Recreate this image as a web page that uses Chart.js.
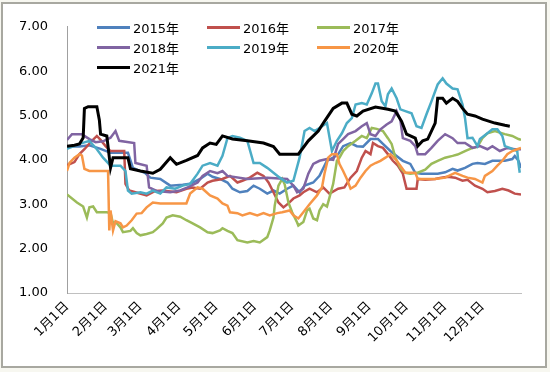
<!DOCTYPE html>
<html>
<head>
<meta charset="utf-8">
<script src="https://cdn.jsdelivr.net/npm/chart.js@4.4.0/dist/chart.umd.min.js"></script>
<style>
  html, body { margin: 0; padding: 0; background: #f7f7f0; }
  .wrap { position: relative; width: 550px; height: 372px; overflow: hidden; }
  .frame { position: absolute; left: 1px; top: 2px; width: 542px; height: 362px; border: 2px solid #a8a8a0; background: #fff; }
  .plot { position: absolute; left: 0; top: 0; width: 550px; height: 372px; }
  .legend { position: absolute; left: 97px; top: 17px; display: grid; grid-template-columns: 110px 110px 110px; grid-auto-rows: 20px; font: 13px "DejaVu Sans", "Noto Sans CJK SC", sans-serif; color: #000; }
  .legend div { display: flex; align-items: center; }
  .legend span.sw { display: inline-block; width: 33px; height: 3px; margin-right: 3px; }
</style>
</head>
<body>
<div class="wrap">
  <div class="frame"></div>
  <div class="plot"><canvas id="myChart" width="550" height="372" style="width:550px;height:372px;display:block"></canvas></div>
  <div class="legend" id="legend"></div>
</div>
<script>
// x axis: day of year, ticks at the first day of each month
const monthDays = [0, 31, 59, 90, 120, 151, 181, 212, 243, 273, 304, 334];
const monthLabels = ['1月1日', '2月1日', '3月1日', '4月1日', '5月1日', '6月1日',
  '7月1日', '8月1日', '9月1日', '10月1日', '11月1日', '12月1日'];
const yTicks = [1, 2, 3, 4, 5, 6, 7];

const names = ['2015年', '2016年', '2017年', '2018年', '2019年', '2020年', '2021年'];
const colors = ['#4f81bd', '#c0504d', '#9bbb59', '#8064a2', '#4bacc6', '#f79646', '#000000'];

const d2015 = [0, 10, 18, 27, 35, 49, 53, 63, 67, 75, 83, 93, 99, 107, 113, 117, 123, 129, 133, 139, 145, 150, 155, 161, 166, 171, 177, 182, 187, 191, 198, 203, 209, 214, 218, 222, 228, 233, 238, 244, 250, 254, 260, 265, 270, 276, 280, 285, 298, 304, 310, 314, 320, 326, 330, 336, 342, 352, 358, 360, 363, 365];
const v2015 = [4.30, 4.30, 4.33, 4.25, 4.16, 4.16, 3.82, 3.70, 3.60, 3.57, 3.42, 3.44, 3.46, 3.57, 3.69, 3.62, 3.57, 3.49, 3.35, 3.27, 3.30, 3.42, 3.35, 3.24, 3.31, 3.24, 3.35, 3.42, 3.27, 3.42, 3.49, 3.64, 3.98, 4.05, 4.13, 4.31, 4.38, 4.31, 4.30, 4.47, 4.47, 4.36, 4.20, 4.09, 3.98, 3.91, 3.71, 3.69, 3.69, 3.72, 3.80, 3.76, 3.82, 3.91, 3.93, 3.91, 3.98, 3.98, 4.02, 4.09, 3.98, 3.82];

const d2016 = [0, 6, 10, 14, 20, 24, 27, 31, 35, 46, 47, 50, 55, 64, 71, 77, 88, 96, 101, 107, 113, 117, 125, 131, 137, 141, 147, 153, 158, 162, 166, 170, 174, 178, 182, 187, 190, 195, 201, 206, 211, 218, 223, 228, 233, 237, 240, 244, 246, 250, 254, 258, 262, 266, 270, 273, 281, 282, 288, 296, 301, 306, 312, 318, 322, 328, 334, 338, 344, 350, 355, 360, 365];
const v2016 = [3.88, 3.95, 4.13, 4.24, 4.43, 4.54, 4.45, 4.31, 4.20, 4.20, 3.46, 3.31, 3.27, 3.20, 3.30, 3.31, 3.27, 3.35, 3.38, 3.35, 3.49, 3.53, 3.57, 3.64, 3.49, 3.53, 3.60, 3.71, 3.64, 3.49, 3.27, 3.04, 2.93, 3.02, 3.13, 3.20, 3.27, 3.35, 3.27, 3.38, 3.24, 3.35, 3.38, 3.60, 3.75, 4.05, 4.20, 4.13, 4.38, 4.31, 4.27, 4.13, 3.98, 3.87, 3.69, 3.35, 3.35, 3.57, 3.55, 3.57, 3.60, 3.62, 3.60, 3.53, 3.55, 3.42, 3.35, 3.27, 3.30, 3.35, 3.31, 3.24, 3.22];

const d2017 = [0, 8, 13, 16, 18, 21, 24, 32, 35, 37, 39, 43, 45, 51, 53, 56, 59, 64, 69, 72, 77, 80, 85, 91, 96, 101, 107, 113, 117, 123, 125, 129, 133, 137, 145, 150, 155, 161, 163, 166, 167, 170, 173, 175, 178, 181, 185, 186, 190, 193, 195, 198, 201, 203, 206, 209, 211, 214, 217, 219, 222, 226, 232, 237, 241, 245, 249, 254, 258, 261, 264, 268, 272, 276, 282, 288, 293, 298, 304, 310, 314, 320, 326, 330, 334, 338, 344, 352, 358, 363, 365];
const v2017 = [3.22, 3.04, 2.95, 2.70, 2.93, 2.95, 2.82, 2.82, 2.80, 2.57, 2.60, 2.48, 2.37, 2.40, 2.46, 2.35, 2.30, 2.33, 2.37, 2.44, 2.57, 2.70, 2.75, 2.72, 2.64, 2.57, 2.48, 2.37, 2.35, 2.41, 2.46, 2.40, 2.35, 2.19, 2.14, 2.17, 2.14, 2.26, 2.41, 2.70, 2.97, 3.42, 3.57, 3.45, 3.04, 2.82, 2.59, 2.52, 2.60, 2.86, 2.90, 2.68, 2.64, 2.86, 3.00, 2.95, 3.15, 3.46, 3.98, 4.05, 4.20, 4.31, 4.43, 4.54, 4.49, 4.72, 4.70, 4.65, 4.49, 4.36, 4.05, 3.82, 3.71, 3.69, 3.71, 3.78, 3.91, 3.98, 4.05, 4.09, 4.12, 4.20, 4.27, 4.30, 4.49, 4.60, 4.65, 4.58, 4.54, 4.47, 4.45];

const d2018 = [0, 4, 12, 18, 23, 29, 35, 39, 42, 54, 55, 64, 66, 72, 83, 91, 97, 105, 109, 115, 121, 125, 129, 145, 161, 177, 182, 185, 190, 194, 198, 203, 209, 214, 218, 222, 226, 232, 237, 241, 244, 248, 252, 257, 261, 265, 268, 270, 276, 280, 282, 288, 293, 298, 304, 310, 314, 320, 326, 332, 338, 342, 348, 354, 360, 365];
const v2018 = [4.45, 4.58, 4.58, 4.47, 4.40, 4.42, 4.50, 4.65, 4.43, 4.38, 3.93, 3.87, 3.38, 3.30, 3.27, 3.31, 3.38, 3.49, 3.64, 3.75, 3.70, 3.75, 3.64, 3.57, 3.60, 3.57, 3.42, 3.27, 3.35, 3.69, 3.91, 3.98, 4.02, 4.00, 4.36, 4.47, 4.58, 4.65, 4.76, 4.83, 4.58, 4.54, 4.69, 4.80, 4.87, 5.10, 4.90, 4.49, 4.43, 4.31, 4.13, 4.13, 4.27, 4.43, 4.58, 4.49, 4.38, 4.38, 4.27, 4.31, 4.24, 4.31, 4.20, 4.27, 4.24, 4.24];

const d2019 = [0, 10, 18, 24, 29, 35, 43, 47, 49, 52, 59, 64, 69, 75, 80, 87, 93, 99, 105, 109, 115, 121, 125, 129, 133, 139, 145, 150, 155, 161, 166, 171, 177, 182, 187, 191, 195, 199, 203, 209, 213, 217, 221, 225, 229, 232, 237, 241, 245, 248, 250, 253, 256, 258, 261, 265, 268, 272, 277, 281, 285, 289, 293, 298, 302, 305, 310, 314, 318, 320, 322, 326, 330, 332, 338, 342, 346, 350, 352, 356, 362, 363, 364];
const v2019 = [4.25, 4.36, 4.43, 4.24, 4.05, 3.87, 3.87, 3.75, 3.31, 3.24, 3.27, 3.24, 3.31, 3.24, 3.38, 3.35, 3.42, 3.46, 3.69, 3.87, 3.93, 3.87, 4.09, 4.49, 4.54, 4.50, 4.43, 3.93, 3.93, 3.82, 3.71, 3.60, 3.49, 3.53, 4.05, 4.65, 4.72, 4.65, 4.72, 4.83, 4.20, 4.43, 4.60, 4.83, 4.94, 5.25, 5.28, 5.25, 5.50, 5.72, 5.72, 5.32, 5.21, 5.48, 5.61, 5.39, 5.14, 5.10, 5.05, 4.76, 4.72, 5.03, 5.32, 5.70, 5.84, 5.72, 5.61, 5.59, 5.25, 4.94, 4.49, 4.50, 4.31, 4.47, 4.60, 4.69, 4.69, 4.54, 4.31, 4.27, 4.20, 3.91, 3.71];

const d2020 = [0, 2, 6, 10, 12, 14, 18, 33, 34, 35, 37, 39, 43, 45, 48, 52, 56, 60, 64, 69, 75, 96, 99, 105, 109, 115, 121, 125, 129, 131, 137, 141, 147, 153, 158, 163, 169, 173, 179, 182, 186, 190, 195, 201, 205, 207, 210, 213, 217, 219, 222, 225, 228, 232, 236, 240, 244, 248, 252, 256, 260, 264, 268, 272, 280, 282, 296, 304, 312, 318, 322, 328, 334, 336, 342, 346, 350, 354, 358, 362, 365];
const v2020 = [3.75, 3.93, 4.05, 4.13, 4.10, 3.80, 3.75, 3.75, 2.41, 2.86, 2.41, 2.62, 2.57, 2.48, 2.52, 2.64, 2.79, 2.80, 2.93, 3.04, 3.02, 3.02, 3.24, 3.38, 3.35, 3.20, 3.13, 3.02, 2.97, 2.82, 2.80, 2.75, 2.80, 2.75, 2.80, 2.75, 2.80, 2.82, 2.86, 2.75, 2.68, 2.82, 3.00, 3.20, 3.38, 3.69, 4.05, 4.13, 4.13, 3.91, 3.75, 3.57, 3.35, 3.42, 3.60, 3.75, 3.87, 3.93, 3.98, 4.05, 4.13, 4.02, 3.87, 3.71, 3.71, 3.57, 3.57, 3.60, 3.71, 3.64, 3.60, 3.57, 3.49, 3.64, 3.75, 3.87, 3.98, 4.13, 4.20, 4.24, 4.27];

const d2021 = [0, 6, 10, 13, 14, 17, 24, 26, 27, 32, 35, 37, 49, 51, 59, 69, 75, 83, 88, 96, 105, 109, 115, 120, 125, 133, 145, 158, 166, 171, 179, 186, 194, 202, 207, 214, 221, 225, 229, 233, 238, 248, 258, 264, 269, 273, 280, 282, 286, 290, 296, 298, 302, 305, 310, 314, 318, 322, 328, 334, 344, 352, 356];
const v2021 = [4.31, 4.33, 4.36, 4.50, 5.16, 5.20, 5.20, 4.90, 4.58, 4.54, 3.82, 4.05, 4.05, 3.80, 3.75, 3.70, 3.79, 4.05, 3.90, 3.99, 4.10, 4.27, 4.38, 4.35, 4.54, 4.47, 4.43, 4.38, 4.30, 4.13, 4.13, 4.13, 4.43, 4.65, 4.87, 5.16, 5.28, 5.28, 5.03, 4.99, 5.10, 5.19, 5.14, 5.10, 4.87, 4.58, 4.49, 4.31, 4.43, 4.47, 4.83, 5.39, 5.39, 5.28, 5.39, 5.32, 5.16, 5.03, 4.99, 4.92, 4.83, 4.78, 4.76];

const days = [d2015, d2016, d2017, d2018, d2019, d2020, d2021];
const values = [v2015, v2016, v2017, v2018, v2019, v2020, v2021];

const datasets = names.map((name, i) => ({
  label: name,
  data: days[i].map((d, j) => ({ x: d, y: values[i][j] })),
  borderColor: colors[i],
  borderWidth: i === 6 ? 3 : 2.5,
  pointRadius: 0,
  tension: 0,
  fill: false,
  order: names.length - i
}));

const font = { family: '"DejaVu Sans", "Noto Sans CJK SC", sans-serif', size: 13 };

const ctx = document.getElementById('myChart').getContext('2d');
const myChart = new Chart(ctx, {
  type: 'line',
  data: { datasets: datasets },
  options: {
    responsive: false,
    animation: false,
    devicePixelRatio: 1,
    layout: { autoPadding: false, padding: { left: 19, right: 29, top: 23, bottom: 0 } },
    plugins: { legend: { display: false }, tooltip: { enabled: false } },
    scales: {
      x: {
        type: 'linear',
        min: 0,
        max: 365,
        afterBuildTicks: axis => { axis.ticks = monthDays.map(v => ({ value: v })); },
        afterFit: axis => { axis.height = 79; },
        grid: { display: false, drawTicks: false },
        border: { display: true, color: '#c0c0c0', width: 1 },
        ticks: {
          autoSkip: false,
          minRotation: 45,
          maxRotation: 45,
          padding: 6,
          color: '#000',
          font: font,
          callback: value => monthLabels[monthDays.indexOf(value)]
        }
      },
      y: {
        min: 1,
        max: 7,
        afterBuildTicks: axis => { axis.ticks = yTicks.map(v => ({ value: v })); },
        afterFit: axis => { axis.width = 48; },
        grid: { display: false, drawTicks: false },
        border: { display: true, color: '#a0a0a0', width: 1 },
        ticks: {
          padding: 19,
          color: '#000',
          font: font,
          callback: value => value.toFixed(2)
        }
      }
    }
  }
});

// legend in three columns, drawn over the plot like the original
const legend = document.getElementById('legend');
names.forEach((name, i) => {
  const item = document.createElement('div');
  item.innerHTML = '<span class="sw" style="background:' + colors[i] + '"></span>' + name;
  legend.appendChild(item);
});
</script>
</body>
</html>
